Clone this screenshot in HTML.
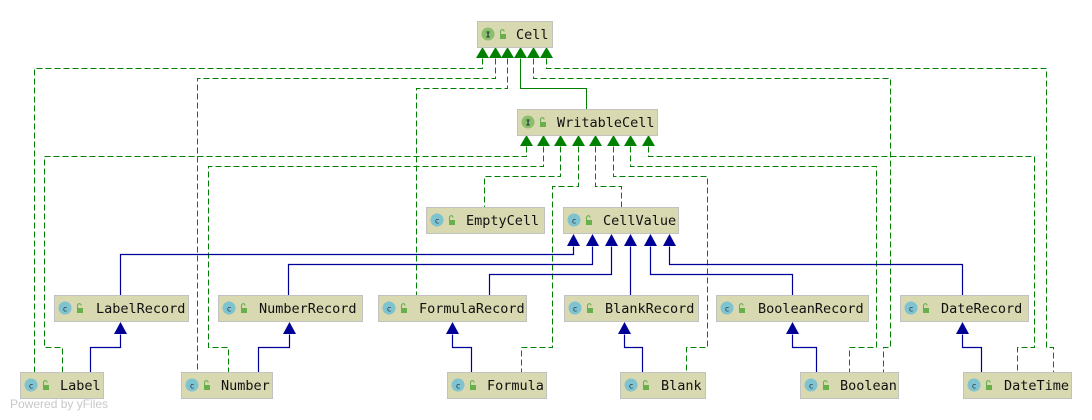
<!DOCTYPE html>
<html><head><meta charset="utf-8"><style>
html,body{margin:0;padding:0;background:#fff;}
svg{display:block;}
.t{font-family:"DejaVu Sans Mono","Liberation Mono",monospace;font-size:13.5px;fill:#111;}
.g{fill:none;stroke:#008000;stroke-width:1;stroke-dasharray:6,3;}
.gs{fill:none;stroke:#008000;stroke-width:1;}
.b{fill:none;stroke:#000096;stroke-width:1.2;}
</style></head><body>
<svg width="1092" height="420" viewBox="0 0 1092 420" xmlns="http://www.w3.org/2000/svg">
<defs>
<g id="ic">
<circle cx="11" cy="13" r="6.5" fill="#7ec3cf"/>
<text x="11" y="16.5" font-family="DejaVu Sans Mono,monospace" font-size="8" text-anchor="middle" fill="#234">c</text>
<rect x="23" y="13" width="6" height="5" fill="#68b04c"/>
<path d="M23.5 13 v-2.5 a1.8 1.8 0 0 1 3.6 0" fill="none" stroke="#68b04c" stroke-width="1.1"/>
</g>
<g id="ii">
<circle cx="11" cy="13" r="6.5" fill="#8cbf6a"/>
<text x="11" y="16.5" font-family="DejaVu Sans Mono,monospace" font-size="8" text-anchor="middle" fill="#234" font-weight="bold">I</text>
<rect x="23" y="13" width="6" height="5" fill="#68b04c"/>
<path d="M23.5 13 v-2.5 a1.8 1.8 0 0 1 3.6 0" fill="none" stroke="#68b04c" stroke-width="1.1"/>
</g>
</defs>

<g transform="translate(0.5,0.5)">
<!-- Cell connectors -->
<path class="g" d="M482 58 V68 H34 V372"/>
<path class="g" d="M495 58 V78 H197 V372"/>
<path class="g" d="M507 58 V88 H416 V295"/>
<path class="gs" d="M520 58 V88 H586 V109"/>
<path class="g" d="M533 58 V78 H890 V347 H883 V372"/>
<path class="g" d="M546 58 V68 H1046 V347 H1053 V372"/>

<!-- WritableCell connectors -->
<path class="g" d="M526 146 V156 H44 V347 H62 V372"/>
<path class="g" d="M543 146 V166 H208 V347 H228 V372"/>
<path class="g" d="M560 146 V176 H484 V207"/>
<path class="g" d="M578 146 V186 H552 V347 H521 V372"/>
<path class="g" d="M595 146 V186 H621 V207"/>
<path class="g" d="M613 146 V176 H707 V347 H686 V372"/>
<path class="g" d="M630 146 V166 H876 V347 H849 V372"/>
<path class="g" d="M648 146 V156 H1034 V347 H1017 V372"/>

<!-- CellValue connectors -->
<path class="b" d="M573 246 V254 H120 V295"/>
<path class="b" d="M592 246 V264 H288 V295"/>
<path class="b" d="M611 246 V274 H489 V295"/>
<path class="b" d="M630 246 V295"/>
<path class="b" d="M650 246 V274 H792 V295"/>
<path class="b" d="M669 246 V264 H962 V295"/>

<!-- Record -> child -->
<path class="b" d="M120 334 V347 H90 V372"/>
<path class="b" d="M289 334 V347 H258 V372"/>
<path class="b" d="M452 334 V347 H471 V372"/>
<path class="b" d="M624 334 V347 H642 V372"/>
<path class="b" d="M792 334 V347 H816 V372"/>
<path class="b" d="M962 334 V347 H981 V372"/>
</g>

<g fill="#008000">
<path d="M476 58 L482.5 47 L489 58Z"/><path d="M489 58 L495.5 47 L502 58Z"/>
<path d="M501 58 L507.5 47 L514 58Z"/><path d="M514 58 L520.5 47 L527 58Z"/>
<path d="M527 58 L533.5 47 L540 58Z"/><path d="M540 58 L546.5 47 L553 58Z"/>
<path d="M520 146 L526.5 135 L533 146Z"/><path d="M537 146 L543.5 135 L550 146Z"/>
<path d="M554 146 L560.5 135 L567 146Z"/><path d="M572 146 L578.5 135 L585 146Z"/>
<path d="M589 146 L595.5 135 L602 146Z"/><path d="M607 146 L613.5 135 L620 146Z"/>
<path d="M624 146 L630.5 135 L637 146Z"/><path d="M642 146 L648.5 135 L655 146Z"/>
</g>
<g fill="#000096">
<path d="M567 246 L573.5 234 L580 246Z"/><path d="M586 246 L592.5 234 L599 246Z"/>
<path d="M605 246 L611.5 234 L618 246Z"/><path d="M624 246 L630.5 234 L637 246Z"/>
<path d="M644 246 L650.5 234 L657 246Z"/><path d="M663 246 L669.5 234 L676 246Z"/>
<path d="M114 334 L120.5 322 L127 334Z"/><path d="M283 334 L289.5 322 L296 334Z"/>
<path d="M446 334 L452.5 322 L459 334Z"/><path d="M618 334 L624.5 322 L631 334Z"/>
<path d="M786 334 L792.5 322 L799 334Z"/><path d="M956 334 L962.5 322 L969 334Z"/>
</g>

<!-- Nodes -->
<g stroke="#c2c2c2" fill="#d8d8b1">
<rect x="477.5" y="21.5" width="75" height="26"/>
<rect x="517.5" y="109.5" width="140" height="26"/>
<rect x="426.5" y="207.5" width="118" height="26"/>
<rect x="563.5" y="207.5" width="115" height="26"/>
<rect x="54.5" y="295.5" width="134" height="26"/>
<rect x="218.5" y="295.5" width="144" height="26"/>
<rect x="378.5" y="295.5" width="148" height="26"/>
<rect x="564.5" y="295.5" width="134" height="26"/>
<rect x="716.5" y="295.5" width="152" height="26"/>
<rect x="900.5" y="295.5" width="128" height="26"/>
<rect x="20.5" y="372.5" width="83" height="26"/>
<rect x="181.5" y="372.5" width="91" height="26"/>
<rect x="447.5" y="372.5" width="99" height="26"/>
<rect x="620.5" y="372.5" width="85" height="26"/>
<rect x="800.5" y="372.5" width="98" height="26"/>
<rect x="963.5" y="372.5" width="108" height="26"/>
</g>
<use href="#ii" x="477" y="21"/><use href="#ii" x="517" y="109"/>
<use href="#ic" x="426" y="207"/><use href="#ic" x="563" y="207"/>
<use href="#ic" x="54" y="295"/><use href="#ic" x="218" y="295"/><use href="#ic" x="378" y="295"/>
<use href="#ic" x="564" y="295"/><use href="#ic" x="716" y="295"/><use href="#ic" x="900" y="295"/>
<use href="#ic" x="20" y="372"/><use href="#ic" x="181" y="372"/><use href="#ic" x="447" y="372"/>
<use href="#ic" x="620" y="372"/><use href="#ic" x="800" y="372"/><use href="#ic" x="963" y="372"/>

<text class="t" x="516" y="39">Cell</text>
<text class="t" x="557" y="127">WritableCell</text>
<text class="t" x="466" y="225">EmptyCell</text>
<text class="t" x="603" y="225">CellValue</text>
<text class="t" x="96" y="313">LabelRecord</text>
<text class="t" x="259" y="313">NumberRecord</text>
<text class="t" x="419" y="313">FormulaRecord</text>
<text class="t" x="605" y="313">BlankRecord</text>
<text class="t" x="758" y="313">BooleanRecord</text>
<text class="t" x="941" y="313">DateRecord</text>
<text class="t" x="60" y="390">Label</text>
<text class="t" x="221" y="390">Number</text>
<text class="t" x="487" y="390">Formula</text>
<text class="t" x="661" y="390">Blank</text>
<text class="t" x="840" y="390">Boolean</text>
<text class="t" x="1004" y="390">DateTime</text>

<text x="10" y="408" font-family="Liberation Sans,sans-serif" font-size="12" fill="#c8c8c8">Powered by yFiles</text>
</svg>
</body></html>
